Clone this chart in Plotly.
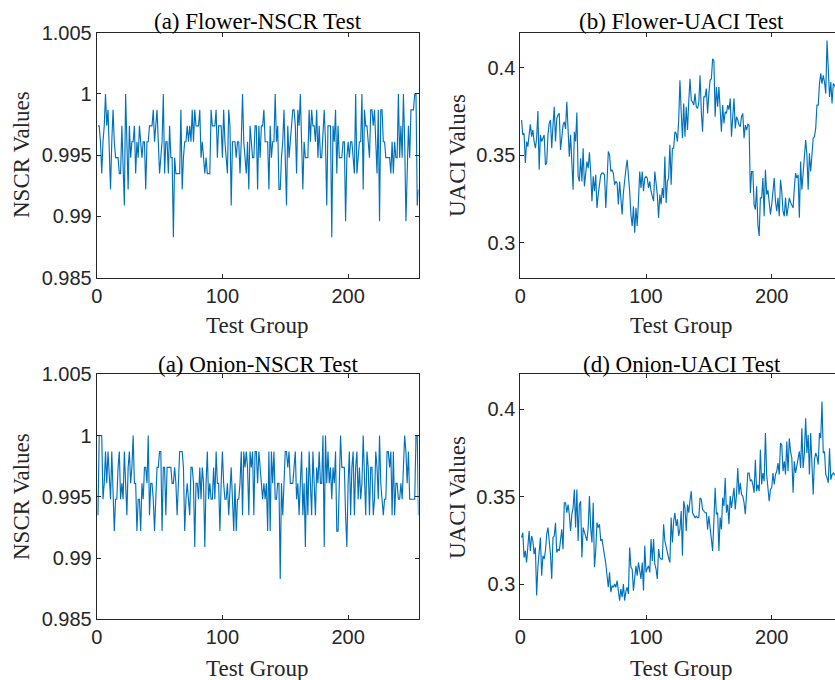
import plotly.graph_objects as go

# ---------------- data ----------------
flower_nscr = [
    0.9974, 0.9974, 0.9961, 0.9935, 0.9961, 0.9974, 1.0, 0.9974, 0.9987, 0.9961,
    0.9922, 0.9961, 0.9987, 0.9961, 0.9948, 0.9948, 0.9948, 0.9935, 0.9935, 0.9974,
    0.9948, 0.9909, 1.0, 0.9961, 0.9922, 0.9974, 0.9948, 0.9961, 0.9961, 0.9974,
    0.9935, 0.9961, 0.9948, 0.9974, 0.9961, 0.9948, 0.9961, 0.9961, 0.9922, 0.9961,
    0.9961, 0.9974, 0.9974, 0.9974, 0.9987, 0.9961, 0.9974, 0.9987, 0.9961, 0.9935,
    0.9948, 0.9961, 1.0, 0.9935, 0.9961, 0.9961, 0.9935, 0.9974, 0.9948, 0.9948,
    0.9883, 0.9948, 0.9935, 0.9935, 0.9935, 0.9935, 0.9987, 0.9922, 0.9948, 0.9961,
    0.9961, 0.9974, 0.9961, 0.9974, 0.9961, 0.9987, 0.9961, 0.9987, 0.9974, 0.9974,
    0.9974, 0.9987, 0.9948, 0.9961, 0.9948, 0.9935, 0.9948, 0.9935, 0.9935, 0.9935,
    0.9987, 0.9974, 0.9974, 0.9974, 0.9987, 0.9948, 0.9974, 0.9974, 0.9974, 0.9948,
    0.9987, 0.9961, 0.9948, 0.9935, 0.9987, 0.9974, 0.9909, 0.9961, 0.9961, 0.9961,
    0.9948, 0.9961, 0.9961, 0.9935, 0.9961, 1.0, 0.9961, 0.9948, 0.9935, 0.9961,
    0.9922, 0.9974, 0.9961, 0.9948, 0.9948, 0.9974, 0.9974, 0.9922, 0.9974,
    0.9948, 0.9974, 0.9974, 0.9987, 0.9961, 0.9961, 0.9961, 0.9922, 0.9974, 0.9948,
    0.9961, 0.9961, 1.0, 0.9961, 0.9974, 0.9922, 0.9922, 0.9948, 0.9961, 0.9987,
    0.9948, 0.9909, 0.9974, 0.9948, 0.9961, 0.9974, 0.9987, 0.9987, 0.9974, 0.9935,
    0.9987, 0.9974, 1.0, 0.9961, 0.9922, 0.9961, 0.9948, 0.9948, 0.9948, 0.9987,
    0.9961, 0.9987, 0.9974, 0.9974, 0.9961, 0.9987, 0.9948, 0.9974, 0.9948, 0.9948,
    0.9974, 0.9987, 0.9961, 0.9909, 0.9974, 0.9974, 0.9974, 0.9883, 0.9974, 0.9961,
    0.9987, 0.9935, 0.9974, 0.9948, 0.9948, 0.9948, 0.9961, 0.9961, 0.9896, 0.9948,
    0.9961, 0.9948, 0.9961, 0.9961, 0.9948, 0.9935, 1.0, 0.9935, 0.9948, 0.9961,
    0.9961, 1.0, 0.9922, 0.9987, 0.9974, 0.9974, 0.9961, 0.9948, 0.9987, 0.9987,
    0.9974, 0.9987, 0.9961, 0.9935, 0.9987, 0.9896, 0.9987, 0.9987, 0.9961, 0.9961,
    0.9948, 0.9948, 0.9948, 0.9948, 0.9935, 0.9961, 0.9935, 0.9961, 0.9948, 0.9948,
    1.0, 0.9948, 0.9974, 0.9948, 1.0, 0.9961, 0.9896, 0.9948, 0.9974, 0.9948,
    0.9987, 0.9987, 0.9987, 1.0, 1.0, 0.9909, 0.9922,
]

onion_nscr = [
    0.9935, 1.0, 1.0, 1.0, 0.9948, 0.9961, 0.9987, 0.9961, 0.9987, 0.9961,
    0.9948, 0.9987, 0.9948, 0.9922, 0.9948, 0.9948, 0.9974, 0.9987, 0.9948, 0.9961,
    0.9948, 0.9987, 0.9961, 0.9935, 0.9974, 0.9987, 0.9961, 0.9974, 1.0, 0.9961,
    0.9961, 0.9922, 0.9948, 0.9948, 0.9922, 0.9961, 0.9948, 0.9974, 0.9974, 0.9961,
    1.0, 0.9935, 0.9961, 0.9961, 0.9948, 0.9922, 0.9948, 0.9974, 0.9974, 0.9987,
    0.9987, 0.9922, 0.9974, 0.9974, 0.9935, 0.9974, 0.9974, 0.9974, 0.9974, 0.9961,
    0.9961, 0.9974, 0.9961, 0.9935, 0.9961, 0.9987, 0.9987, 0.9987, 0.9974, 0.9922,
    0.9948, 0.9961, 0.9948, 0.9935, 0.9974, 0.9974, 0.9961, 0.9909, 0.9961, 0.9961,
    0.9948, 0.9974, 0.9948, 0.9974, 0.9961, 0.9909, 0.9961, 0.9987, 0.9948, 0.9961,
    0.9948, 0.9948, 0.9974, 0.9948, 0.9987, 0.9961, 0.9961, 0.9922, 0.9961, 0.9987,
    0.9961, 0.9948, 0.9948, 0.9961, 0.9935, 0.9961, 0.9974, 0.9948, 0.9922, 0.9961,
    0.9922, 0.9948, 0.9948, 0.9961, 0.9987, 0.9935, 0.9987, 0.9974, 0.9987, 0.9974,
    0.9935, 0.9987, 0.9974, 0.9987, 0.9935, 0.9987, 0.9987, 0.9961, 0.9987,
    0.9974, 0.9961, 0.9948, 0.9961, 0.9948, 0.9961, 0.9922, 0.9987, 0.9922, 0.9987,
    0.9961, 0.9987, 0.9948, 0.9948, 0.9961, 0.9961, 0.9883, 0.9961, 0.9935, 0.9961,
    0.9987, 0.9987, 0.9974, 0.9987, 0.9961, 0.9961, 0.9961, 0.9974, 0.9987, 0.9948,
    0.9961, 0.9935, 0.9961, 0.9987, 0.9935, 0.9961, 0.9909, 0.9974, 0.9935, 0.9987,
    0.9961, 0.9935, 0.9987, 0.9961, 0.9935, 0.9974, 0.9961, 0.9987, 0.9961, 0.9961,
    1.0, 0.9909, 1.0, 0.9961, 0.9987, 0.9961, 0.9974, 0.9948, 0.9974, 0.9961,
    0.9987, 0.9922, 0.9922, 0.9961, 1.0, 0.9974, 0.9974, 0.9974, 0.9935, 0.9909,
    0.9961, 0.9987, 0.9935, 0.9974, 0.9987, 0.9935, 0.9974, 0.9987, 0.9948, 0.9974,
    0.9948, 0.9961, 1.0, 0.9961, 0.9935, 0.9987, 0.9974, 0.9935, 0.9974, 0.9974,
    0.9935, 0.9948, 0.9987, 0.9974, 0.9948, 1.0, 0.9961, 0.9948, 0.9935, 0.9948,
    0.9948, 0.9987, 0.9987, 0.9974, 0.9987, 0.9935, 0.9987, 0.9935, 0.9961, 0.9961,
    0.9948, 0.9948, 0.9961, 0.9948, 0.9974, 1.0, 0.9987, 0.9961, 0.9987, 0.9948,
    0.9948, 0.9948, 0.9948, 0.9948, 1.0, 1.0, 0.9935,
]

flower_uaci = [
    0.3701, 0.3616, 0.3625, 0.3455, 0.3578, 0.3549, 0.3616, 0.3676, 0.3606, 0.3644,
    0.3578, 0.3540, 0.3597, 0.3752, 0.3417, 0.3616, 0.3578, 0.3600, 0.3616, 0.3445,
    0.3455, 0.3616, 0.3682, 0.3701, 0.3540, 0.3672, 0.3777, 0.3578, 0.3710, 0.3729,
    0.3739, 0.3530, 0.3616, 0.3672, 0.3691, 0.3650, 0.3805, 0.3672, 0.3492, 0.3616,
    0.3483, 0.3303, 0.3634, 0.3578, 0.3744, 0.3379, 0.3350, 0.3483, 0.3350, 0.3540,
    0.3322, 0.3388, 0.3464, 0.3426, 0.3517, 0.3400, 0.3237, 0.3379, 0.3294, 0.3388,
    0.3199, 0.3275, 0.3350, 0.3388, 0.3398, 0.3398, 0.3388, 0.3199, 0.3350, 0.3521,
    0.3502, 0.3407, 0.3417, 0.3398, 0.3331, 0.3350, 0.3341, 0.3218, 0.3350, 0.3256,
    0.3161, 0.3284, 0.3379, 0.3420, 0.3474, 0.3388, 0.3294, 0.3161, 0.3095, 0.3208,
    0.3057, 0.3199, 0.3095, 0.3237, 0.3407, 0.3313, 0.3407, 0.3294, 0.3369, 0.3379,
    0.3369, 0.3313, 0.3350, 0.3294, 0.3260, 0.3237, 0.3407, 0.3350, 0.3275, 0.3142,
    0.3275, 0.3218, 0.3313, 0.3256, 0.3492, 0.3227, 0.3350, 0.3369, 0.3559, 0.3331,
    0.3540, 0.3540, 0.3634, 0.3625, 0.3578, 0.3700, 0.3928, 0.3748, 0.3597, 0.3795,
    0.3606, 0.3777, 0.3644, 0.3805, 0.3937, 0.3814, 0.3805, 0.3786, 0.3852, 0.3777,
    0.3767, 0.3800, 0.3956, 0.3748, 0.3634, 0.3833, 0.3833, 0.3881, 0.3739, 0.3852,
    0.3928, 0.3937, 0.4051, 0.4042, 0.3720, 0.3890, 0.3777, 0.3890, 0.3748, 0.3634,
    0.3786, 0.3682, 0.3748, 0.3739, 0.3786, 0.3760, 0.3824, 0.3606, 0.3720, 0.3824,
    0.3653, 0.3720, 0.3701, 0.3672, 0.3663, 0.3720, 0.3739, 0.3597, 0.3672, 0.3644,
    0.3676, 0.3672, 0.3284, 0.3407, 0.3407, 0.3218, 0.3189, 0.3322, 0.3104, 0.3038,
    0.3256, 0.3256, 0.3369, 0.3151, 0.3417, 0.3275, 0.3300, 0.3246, 0.3161, 0.3218,
    0.3322, 0.3369, 0.3237, 0.3180, 0.3256, 0.3151, 0.3360, 0.3294, 0.3180, 0.3151,
    0.3256, 0.3151, 0.3199, 0.3256, 0.3230, 0.3218, 0.3199, 0.3313, 0.3398, 0.3369,
    0.3388, 0.3142, 0.3464, 0.3303, 0.3398, 0.3492, 0.3587, 0.3502, 0.3303, 0.3511,
    0.3407, 0.3500, 0.3597, 0.3606, 0.3653, 0.3786, 0.3786, 0.3909, 0.3966, 0.3909,
    0.3956, 0.3918, 0.3852, 0.4155, 0.3937, 0.3833, 0.3918, 0.3795, 0.3909, 0.3900,
    0.3880, 0.3910,
]

onion_uaci = [
    0.3267, 0.3295, 0.3153, 0.3191, 0.3125, 0.3210, 0.3305, 0.3191, 0.3276, 0.3248,
    0.3172, 0.3210, 0.2936, 0.3100, 0.3172, 0.3267, 0.3049, 0.3163, 0.3144, 0.3191,
    0.3286, 0.3324, 0.3248, 0.3172, 0.3030, 0.3267, 0.3276, 0.3352, 0.3182, 0.3201,
    0.3191, 0.3250, 0.3314, 0.3201, 0.3466, 0.3466, 0.3409, 0.3456, 0.3400, 0.3305,
    0.3400, 0.3437, 0.3542, 0.3324, 0.3542, 0.3248, 0.3456, 0.3475, 0.3153, 0.3324,
    0.3300, 0.3267, 0.3248, 0.3324, 0.3504, 0.3324, 0.3239, 0.3466, 0.3097, 0.3191,
    0.3352, 0.3324, 0.3343, 0.3248, 0.3258, 0.3210, 0.3172, 0.3120, 0.3049, 0.2983,
    0.3068, 0.2955, 0.2992, 0.2983, 0.3002, 0.2983, 0.3021, 0.2945, 0.2907, 0.2973,
    0.2926, 0.3002, 0.2907, 0.2960, 0.2983, 0.2945, 0.3210, 0.3097, 0.3087, 0.2964,
    0.3059, 0.3106, 0.3049, 0.3125, 0.3078, 0.3030, 0.3125, 0.2964, 0.3220, 0.3068,
    0.3090, 0.3106, 0.3068, 0.3258, 0.3134, 0.3258, 0.3116, 0.3087, 0.3030, 0.3201,
    0.3153, 0.3144, 0.3144, 0.3343, 0.3248, 0.3210, 0.3172, 0.3150, 0.3125, 0.3381,
    0.3239, 0.3362, 0.3409, 0.3333, 0.3371, 0.3276, 0.3314, 0.3419, 0.3163, 0.3475,
    0.3437, 0.3305, 0.3456, 0.3409, 0.3480, 0.3532, 0.3409, 0.3390, 0.3381, 0.3390,
    0.3381, 0.3381, 0.3494, 0.3485, 0.3428, 0.3419, 0.3409, 0.3409, 0.3314, 0.3390,
    0.3314, 0.3250, 0.3191, 0.3362, 0.3551, 0.3400, 0.3409, 0.3191, 0.3381, 0.3314,
    0.3494, 0.3447, 0.3608, 0.3409, 0.3456, 0.3343, 0.3504, 0.3437, 0.3500, 0.3551,
    0.3428, 0.3513, 0.3665, 0.3513, 0.3580, 0.3513, 0.3504, 0.3466, 0.3400, 0.3551,
    0.3636, 0.3636, 0.3589, 0.3598, 0.3570, 0.3523, 0.3712, 0.3532, 0.3570, 0.3532,
    0.3769, 0.3570, 0.3636, 0.3589, 0.3864, 0.3627, 0.3560, 0.3475, 0.3542, 0.3551,
    0.3636, 0.3570, 0.3627, 0.3646, 0.3693, 0.3627, 0.3807, 0.3797, 0.3646, 0.3703,
    0.3627, 0.3816, 0.3646, 0.3835, 0.3760, 0.3722, 0.3523, 0.3703, 0.3636, 0.3674,
    0.3731, 0.3759, 0.3665, 0.3892, 0.3665, 0.3750, 0.3949, 0.3750, 0.3854, 0.3627,
    0.3864, 0.3700, 0.3513, 0.3712, 0.3750, 0.3731, 0.3684, 0.3864, 0.3835, 0.4044,
    0.3750, 0.3759, 0.3627, 0.3608, 0.3580, 0.3778, 0.3598, 0.3627, 0.3636, 0.3627,
    0.3620, 0.3640,
]

panel_titles = ["(a) Flower-NSCR Test", "(b) Flower-UACI Test",
                "(a) Onion-NSCR Test", "(d) Onion-UACI Test"]
x_title = "Test Group"
nscr_title = "NSCR Values"
uaci_title = "UACI Values"
x_ticks = [0, 100, 200]
nscr_ticks = [0.985, 0.99, 0.995, 1.0, 1.005]
nscr_ticktext = ["0.985", "0.99", "0.995", "1", "1.005"]
uaci_ticks = [0.3, 0.35, 0.4]
uaci_ticktext = ["0.3", "0.35", "0.4"]

# ---------------- layout geometry (pixels) ----------------
W, H = 835, 680
LINE = "#0072BD"
AX = "#262626"
SERIF = "Liberation Serif, Times New Roman, serif"
SANS = "Liberation Sans, Arial, sans-serif"
SERIF_SIZE = 23

def px_x(p):
    return p / W

def px_y(p):
    return 1 - p / H

left_dom = [px_x(96.7), px_x(418.5)]
right_dom = [px_x(520.3), 1.0]
top_dom = [px_y(277.7), px_y(32.7)]
bot_dom = [px_y(619.3), px_y(374.3)]
px_per_unit = (418.5 - 96.7) / 256.0
right_xmax = (W - 520.3) / px_per_unit

panels = [
    # (y data, x domain, y domain, x range, y range, y ticks, y ticktext, mirror y)
    (flower_nscr, left_dom, top_dom, [0, 256], [0.985, 1.005], nscr_ticks, nscr_ticktext, True),
    (flower_uaci, right_dom, top_dom, [0, right_xmax], [0.28, 0.42], uaci_ticks, uaci_ticktext, False),
    (onion_nscr, left_dom, bot_dom, [0, 256], [0.985, 1.005], nscr_ticks, nscr_ticktext, True),
    (onion_uaci, right_dom, bot_dom, [0, right_xmax], [0.28, 0.42], uaci_ticks, uaci_ticktext, False),
]

fig = go.Figure()
layout_axes = {}
for n, (vals, xd, yd, xr, yr, yt, ytt, ymir) in enumerate(panels, start=1):
    xs = list(range(1, len(vals) + 1))
    fig.add_trace(go.Scatter(
        x=xs, y=vals, mode="lines",
        line=dict(color=LINE, width=1.15),
        xaxis=f"x{n}", yaxis=f"y{n}", showlegend=False, hoverinfo="skip",
    ))
    common = dict(
        showline=True, linecolor=AX, linewidth=1,
        ticks="inside", ticklen=4, tickwidth=1, tickcolor=AX,
        showgrid=False, zeroline=False, automargin=False,
        tickfont=dict(family=SANS, size=20, color=AX),
        fixedrange=True,
    )
    layout_axes[f"xaxis{n}"] = dict(
        common, domain=xd, range=xr, anchor=f"y{n}",
        tickvals=x_ticks, ticktext=[str(v) for v in x_ticks],
        mirror="ticks",
    )
    layout_axes[f"yaxis{n}"] = dict(
        common, domain=yd, range=yr, anchor=f"x{n}",
        tickvals=yt, ticktext=ytt,
        mirror="ticks" if ymir else False,
    )

fig.update_layout(**layout_axes)

annotations = []
centers_x = [257.6, 681.5, 257.6, 681.5]
title_y = [21, 21, 364, 364]
xlab_y = [325, 325, 668, 668]
ylab_x = [22, 458, 22, 458]
ylab_y = [155, 155, 497, 497]
ylabs = [nscr_title, uaci_title, nscr_title, uaci_title]
for k in range(4):
    annotations.append(dict(
        text=panel_titles[k], x=px_x(centers_x[k]), y=px_y(title_y[k]),
        xref="paper", yref="paper", xanchor="center", yanchor="middle",
        showarrow=False, font=dict(family=SERIF, size=SERIF_SIZE, color="#000000"),
    ))
    annotations.append(dict(
        text=x_title, x=px_x(centers_x[k]), y=px_y(xlab_y[k]),
        xref="paper", yref="paper", xanchor="center", yanchor="middle",
        showarrow=False, font=dict(family=SERIF, size=SERIF_SIZE, color=AX),
    ))
    annotations.append(dict(
        text=ylabs[k], x=px_x(ylab_x[k]), y=px_y(ylab_y[k]), textangle=-90,
        xref="paper", yref="paper", xanchor="center", yanchor="middle",
        showarrow=False, font=dict(family=SERIF, size=SERIF_SIZE, color=AX),
    ))

fig.update_layout(
    width=W, height=H,
    margin=dict(l=0, r=0, t=0, b=0),
    paper_bgcolor="white", plot_bgcolor="white",
    annotations=annotations,
)

fig.write_html("out.html", config={"displayModeBar": False})
